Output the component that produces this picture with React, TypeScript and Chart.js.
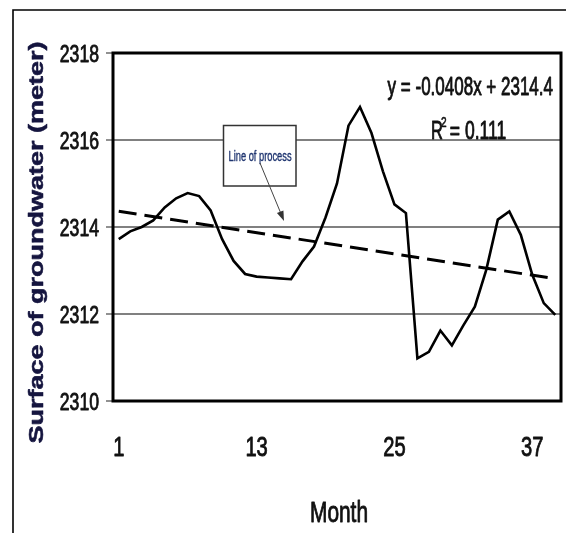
import { useEffect, useRef } from 'react';
import { Chart, registerables } from 'chart.js';

Chart.register(...registerables);

// ---- data ----
const months = [
  '1', '2', '3', '4', '5', '6', '7', '8', '9', '10',
  '11', '12', '13', '14', '15', '16', '17', '18', '19', '20',
  '21', '22', '23', '24', '25', '26', '27', '28', '29', '30',
  '31', '32', '33', '34', '35', '36', '37', '38', '39',
];

const groundwater = [
  2313.72, 2313.90, 2314.00, 2314.15, 2314.45, 2314.66, 2314.78, 2314.71, 2314.38, 2313.72,
  2313.22, 2312.92, 2312.86, 2312.84, 2312.82, 2312.80, 2313.21, 2313.55, 2314.22, 2315.00,
  2316.33, 2316.76, 2316.16, 2315.28, 2314.52, 2314.32, 2310.98, 2311.13, 2311.62, 2311.28,
  2311.74, 2312.17, 2313.02, 2314.17, 2314.36, 2313.82, 2312.90, 2312.25, 2311.98,
];

// linear trend end values (month 1 and month 39)
const trendEnds = [2314.36, 2312.81];

const xTickLabels = ['1', '13', '25', '37'];
const yTickValues = [2310, 2312, 2314, 2316, 2318];

const yTitle = 'Surface of groundwater (meter)';
const xTitle = 'Month';
const equationText = 'y = -0.0408x + 2314.4';
const rSquaredText = ' = 0.111';
const noteText = 'Line of process';

const FONT = '"Liberation Sans", Arial, Helvetica, sans-serif';

function drawText(
  ctx: CanvasRenderingContext2D,
  text: string,
  x: number,
  y: number,
  size: number,
  opts: { weight?: string; sx?: number; align?: CanvasTextAlign; color?: string; stroke?: number } = {}
) {
  ctx.save();
  ctx.font = `${opts.weight || 'normal'} ${size}px ${FONT}`;
  ctx.fillStyle = opts.color || '#111';
  ctx.strokeStyle = opts.color || '#111';
  ctx.textAlign = opts.align || 'left';
  ctx.textBaseline = 'alphabetic';
  ctx.translate(x, y);
  ctx.scale(opts.sx ?? 0.72, 1);
  ctx.fillText(text, 0, 0);
  const sw = opts.stroke ?? 0.9;
  if (sw > 0) {
    ctx.lineWidth = sw;
    ctx.lineJoin = 'round';
    ctx.strokeText(text, 0, 0);
  }
  ctx.restore();
}

const decorPlugin = {
  id: 'decor',
  beforeDraw(chart: any) {
    const ctx: CanvasRenderingContext2D = chart.ctx;
    ctx.save();
    ctx.fillStyle = '#ffffff';
    ctx.fillRect(0, 0, chart.width, chart.height);
    // outer frame (left + top)
    ctx.strokeStyle = '#000';
    ctx.lineWidth = 1.6;
    ctx.beginPath();
    ctx.moveTo(13, chart.height);
    ctx.lineTo(13, 10);
    ctx.lineTo(chart.width, 10);
    ctx.stroke();
    ctx.restore();
  },
  afterDraw(chart: any) {
    const ctx: CanvasRenderingContext2D = chart.ctx;
    const area = chart.chartArea;
    const xs = chart.scales.x;
    const ys = chart.scales.y;

    // plot border
    ctx.save();
    ctx.strokeStyle = '#000';
    ctx.lineWidth = 3;
    ctx.strokeRect(area.left, area.top, area.right - area.left, area.bottom - area.top);
    ctx.restore();

    // y tick labels
    yTickValues.forEach((v) => {
      const py = ys.getPixelForValue(v);
      drawText(ctx, String(v), 99, py + 8.7, 24.5, { align: 'right', sx: 0.72, color: '#111' });
    });

    // x tick labels
    xTickLabels.forEach((lab) => {
      const idx = months.indexOf(lab);
      const px = xs.getPixelForValue(idx);
      drawText(ctx, lab, px, 455.5, 28, { align: 'center', sx: 0.72, color: '#111' });
    });

    // x title
    drawText(ctx, xTitle, 339, 521.5, 29, { align: 'center', sx: 0.72, color: '#111' });

    // y title (rotated)
    ctx.save();
    ctx.translate(42.5, 242.5);
    ctx.rotate(-Math.PI / 2);
    ctx.scale(1, 0.76);
    ctx.font = `bold 27px ${FONT}`;
    ctx.fillStyle = '#15153f';
    ctx.strokeStyle = '#15153f';
    ctx.lineWidth = 0.7;
    ctx.lineJoin = 'round';
    ctx.textAlign = 'center';
    ctx.textBaseline = 'alphabetic';
    ctx.fillText(yTitle, 0, 0);
    ctx.strokeText(yTitle, 0, 0);
    ctx.restore();

    // regression equation
    drawText(ctx, equationText, 553, 95, 25, { align: 'right', sx: 0.68, color: '#111' });
    drawText(ctx, 'R', 431, 139, 25, { align: 'left', sx: 0.66, color: '#111' });
    drawText(ctx, '2', 441, 127, 14, { align: 'left', sx: 0.72, color: '#111', stroke: 0.6 });
    drawText(ctx, rSquaredText, 445, 139, 25, { align: 'left', sx: 0.7, color: '#111' });

    // annotation box
    ctx.save();
    ctx.fillStyle = '#ffffff';
    ctx.fillRect(223.5, 125.5, 72.5, 60.5);
    ctx.strokeStyle = '#333';
    ctx.lineWidth = 1.5;
    ctx.strokeRect(223.5, 125.5, 72.5, 60.5);
    ctx.restore();
    drawText(ctx, noteText, 260, 161, 15.5, { align: 'center', sx: 0.6, color: '#1f3570', stroke: 0.4 });

    // arrow
    const x1 = 260, y1 = 163, x2 = 284, y2 = 221;
    const ang = Math.atan2(y2 - y1, x2 - x1);
    ctx.save();
    ctx.strokeStyle = '#444';
    ctx.fillStyle = '#333';
    ctx.lineWidth = 1;
    ctx.beginPath();
    ctx.moveTo(x1, y1);
    ctx.lineTo(x2 - 8 * Math.cos(ang), y2 - 8 * Math.sin(ang));
    ctx.stroke();
    ctx.beginPath();
    ctx.moveTo(x2, y2);
    ctx.lineTo(x2 - 10 * Math.cos(ang) + 3.5 * Math.sin(ang), y2 - 10 * Math.sin(ang) - 3.5 * Math.cos(ang));
    ctx.lineTo(x2 - 10 * Math.cos(ang) - 3.5 * Math.sin(ang), y2 - 10 * Math.sin(ang) + 3.5 * Math.cos(ang));
    ctx.closePath();
    ctx.fill();
    ctx.restore();
  },
};

export default function App() {
  const ref = useRef<HTMLCanvasElement | null>(null);

  useEffect(() => {
    if (!ref.current) return;
    const trendData = months.map((_, i) =>
      i === 0 ? trendEnds[0] : i === months.length - 1 ? trendEnds[1] : null
    );
    const chart = new Chart(ref.current, {
      type: 'line',
      data: {
        labels: months,
        datasets: [
          {
            label: 'Surface of groundwater',
            data: groundwater,
            borderColor: '#000',
            borderWidth: 2.6,
            pointRadius: 0,
            tension: 0,
            fill: false,
          },
          {
            label: 'Linear trend',
            data: trendData,
            borderColor: '#000',
            borderWidth: 3,
            borderDash: [18, 8],
            pointRadius: 0,
            spanGaps: true,
            fill: false,
          },
        ],
      },
      options: {
        responsive: false,
        animation: false,
        layout: { padding: { left: 113, top: 53, right: 5, bottom: 132 } },
        plugins: {
          legend: { display: false },
          tooltip: { enabled: false },
          title: { display: false },
        },
        scales: {
          x: {
            type: 'category',
            offset: true,
            grid: { display: false, drawTicks: false },
            border: { display: false },
            ticks: { display: false },
            afterFit: (a: any) => { a.height = 0; },
          },
          y: {
            min: 2310,
            max: 2318,
            grid: {
              color: '#808080',
              lineWidth: 2,
              drawTicks: true,
              tickLength: 7,
              tickColor: '#555',
              tickWidth: 1.3,
            },
            border: { display: false },
            ticks: { display: false, stepSize: 2 },
            afterFit: (a: any) => { a.width = 0; },
          },
        },
      },
      plugins: [decorPlugin],
    });
    return () => chart.destroy();
  }, []);

  return (
    <div style={{ position: 'absolute', left: 0, top: 0, width: 566, height: 533, background: '#fff' }}>
      <canvas ref={ref} width={566} height={533} />
    </div>
  );
}
